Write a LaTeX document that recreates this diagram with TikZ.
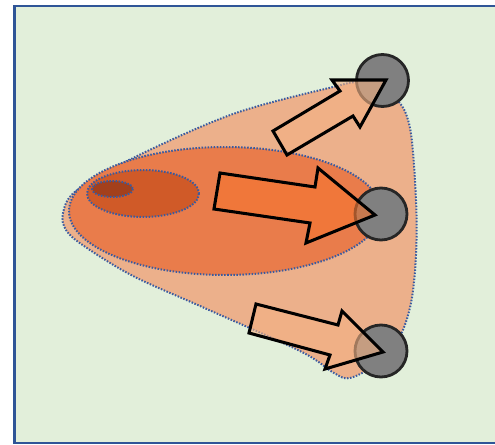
\documentclass[tikz,border=0pt]{standalone}
\definecolor{bggreen}{HTML}{E2EFDA}
\definecolor{borderblue}{HTML}{2F5597}
\definecolor{blobpeach}{HTML}{ECB08B}
\definecolor{ellorange}{HTML}{E97C4B}
\definecolor{ellmid}{HTML}{D05A28}
\definecolor{ellsmall}{HTML}{A3401C}
\definecolor{arrowpeach}{HTML}{F4B183}
\definecolor{arroworange}{HTML}{F5752F}
\definecolor{dotblue}{HTML}{3A5BA0}
\tikzset{
  dotline/.style={draw=dotblue, line width=1.7pt, dash pattern=on 1.3pt off 1.3pt},
  sensor/.style={circle, fill=black!50, draw=black!85, line width=2.4pt, minimum size=1.56cm, inner sep=0pt},
  blockarrow/.style={draw=black, line width=2.6pt, line join=miter, fill opacity=0.6},
}
\begin{document}
\begin{tikzpicture}[x=0.03cm, y=-0.03cm]
\useasboundingbox (0,0) rectangle (495,445);
% background
\draw[fill=bggreen, draw=borderblue, line width=1.8pt] (14.5,6) rectangle (530,443);
% outer blob
\path[fill=blobpeach, dotline] plot[smooth cycle, tension=0.55] coordinates {
  (63,213) (76,191) (133,158) (233,114) (333,87) (360,83) (395,98) (410,128)
  (416,200) (416,255) (411,303) (399,338) (376,364) (350,378) (334,373)
  (300,351) (200,306) (133,276) (84,246) (66,230)};
% nested ellipses
\path[fill=ellorange, dotline] (225,211) ellipse [x radius=156, y radius=64];
\path[fill=ellmid, dotline] (143,193.5) ellipse [x radius=56, y radius=23.5];
\path[fill=ellsmall, dotline] (112.5,189) ellipse [x radius=20.5, y radius=8];
% sensors
\node[sensor] (s1) at (382.5,80.5) {};
\node[sensor] (s2) at (381,214) {};
\node[sensor] (s3) at (381,351) {};
% block arrows
\draw[blockarrow, fill=arrowpeach] (273,131) -- (340,91) -- (332,80) -- (386,80)
  -- (360,127) -- (353,116) -- (287,155) -- cycle;
\draw[blockarrow, fill=arroworange] (220,173) -- (315,187) -- (318,168) -- (375,215)
  -- (306,243) -- (310,223) -- (214,209) -- cycle;
\draw[blockarrow, fill=arrowpeach] (256,304) -- (338,325) -- (342,311) -- (383,352)
  -- (325,369) -- (330,355) -- (249,333) -- cycle;
\end{tikzpicture}
\end{document}
